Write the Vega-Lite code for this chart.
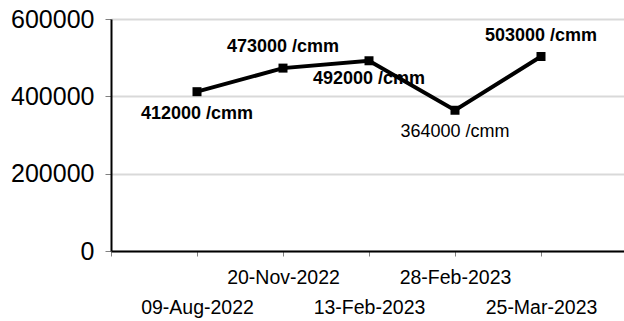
{
  "$schema": "https://vega.github.io/schema/vega-lite/v6.json",
  "autosize": {"type": "none"},
  "padding": {"left": 111, "top": 19, "right": 0, "bottom": 70},
  "width": 513,
  "height": 232,
  "config": {
    "view": {"stroke": null},
    "font": "Liberation Sans",
    "axis": {"labelFont": "Liberation Sans", "labelColor": "black"}
  },
  "data": {
    "values": [
      {"date": "09-Aug-2022", "count": 412000},
      {"date": "20-Nov-2022", "count": 473000},
      {"date": "13-Feb-2023", "count": 492000},
      {"date": "28-Feb-2023", "count": 364000},
      {"date": "25-Mar-2023", "count": 503000}
    ]
  },
  "transform": [{"calculate": "datum.count + ' /cmm'", "as": "label"}],
  "encoding": {
    "x": {
      "field": "date",
      "type": "ordinal",
      "sort": null,
      "scale": {
        "type": "point",
        "domain": ["", "09-Aug-2022", "20-Nov-2022", "13-Feb-2023", "28-Feb-2023", "25-Mar-2023", " "],
        "range": [0, 516],
        "padding": 0
      },
      "axis": {
        "title": null,
        "labelAngle": 0,
        "labelFontSize": 19.5,
        "labelPadding": {
          "condition": {"test": "datum.value == '20-Nov-2022' || datum.value == '28-Feb-2023'", "value": 12},
          "value": 42
        },
        "tickSize": 5,
        "tickColor": "#808080",
        "tickWidth": 1,
        "domainColor": "black",
        "domainWidth": 2,
        "grid": false
      }
    },
    "y": {
      "field": "count",
      "type": "quantitative",
      "scale": {"domain": [0, 600000], "nice": false},
      "axis": {
        "title": null,
        "values": [0, 200000, 400000, 600000],
        "format": "d",
        "labelFontSize": 25,
        "labelPadding": 11,
        "tickSize": 6,
        "tickColor": "#808080",
        "tickWidth": 1,
        "domainColor": "black",
        "domainWidth": 2,
        "gridColor": "#d9d9d9",
        "gridWidth": 2
      }
    }
  },
  "layer": [
    {"mark": {"type": "line", "color": "black", "strokeWidth": 4}},
    {"mark": {"type": "square", "color": "black", "filled": true, "opacity": 1, "size": 81}},
    {
      "transform": [{"filter": "datum.date == '20-Nov-2022' || datum.date == '25-Mar-2023'"}],
      "mark": {"type": "text", "fontSize": 18, "fontWeight": "bold", "dy": -21, "color": "black", "baseline": "middle"},
      "encoding": {"text": {"field": "label"}}
    },
    {
      "transform": [{"filter": "datum.date == '09-Aug-2022'"}],
      "mark": {"type": "text", "fontSize": 18, "fontWeight": "bold", "dy": 22, "color": "black", "baseline": "middle"},
      "encoding": {"text": {"field": "label"}}
    },
    {
      "transform": [{"filter": "datum.date == '13-Feb-2023'"}],
      "mark": {"type": "text", "fontSize": 18, "fontWeight": "bold", "dy": 18, "color": "black", "baseline": "middle"},
      "encoding": {"text": {"field": "label"}}
    },
    {
      "transform": [{"filter": "datum.date == '28-Feb-2023'"}],
      "mark": {"type": "text", "fontSize": 18, "fontWeight": "normal", "dy": 22, "color": "black", "baseline": "middle"},
      "encoding": {"text": {"field": "label"}}
    }
  ]
}
